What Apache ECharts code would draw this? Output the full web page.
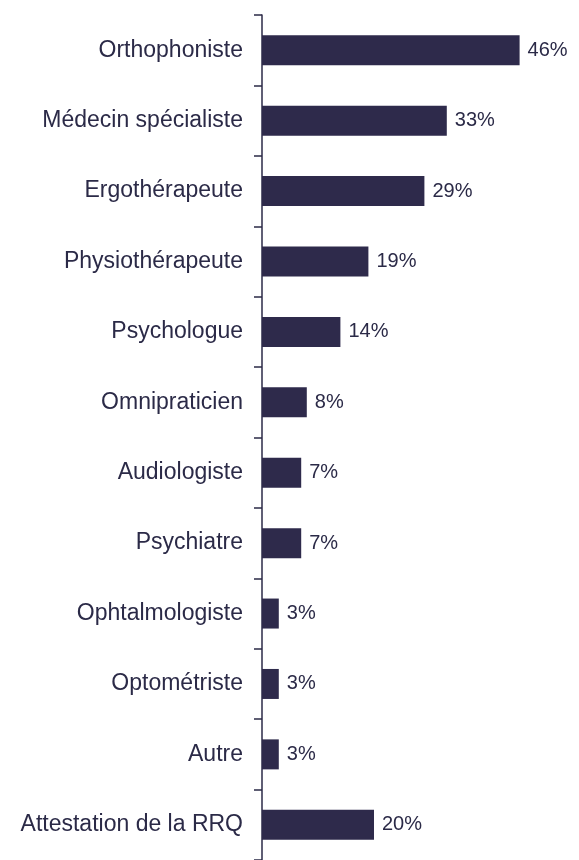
<!DOCTYPE html>
<html><head><meta charset="utf-8">
<script src="https://cdn.jsdelivr.net/npm/echarts@6/dist/echarts.min.js"></script>
<style>html,body{margin:0;padding:0;background:#fff}#c{width:579px;height:860px}</style>
</head><body><div id="c"></div>
<script>
const categories = ["Orthophoniste","Médecin spécialiste","Ergothérapeute","Physiothérapeute","Psychologue","Omnipraticien","Audiologiste","Psychiatre","Ophtalmologiste","Optométriste","Autre","Attestation de la RRQ"];
const values = [46,33,29,19,14,8,7,7,3,3,3,20];
const chart = echarts.init(document.getElementById('c'));
chart.setOption({
  animation:false,
  grid:{left:262,top:15,width:280,height:849,containLabel:false},
  xAxis:{type:'value',min:0,max:50,show:false},
  yAxis:{type:'category',data:categories,inverse:true,
    axisLine:{show:true,lineStyle:{color:'#2b2a47',width:1.5}},
    axisTick:{show:true,length:8,inside:false,lineStyle:{color:'#2b2a47',width:1.5}},
    axisLabel:{margin:19,color:'#2b2a47',fontSize:23,fontFamily:'Liberation Sans, Arial, sans-serif'}},
  series:[{type:'bar',data:values,barWidth:30,itemStyle:{color:'#2e2a4b'},
    label:{show:true,position:'right',distance:8,formatter:'{c}%',color:'#2b2a47',fontSize:20,fontFamily:'Liberation Sans, Arial, sans-serif'}}]
});
</script></body></html>
